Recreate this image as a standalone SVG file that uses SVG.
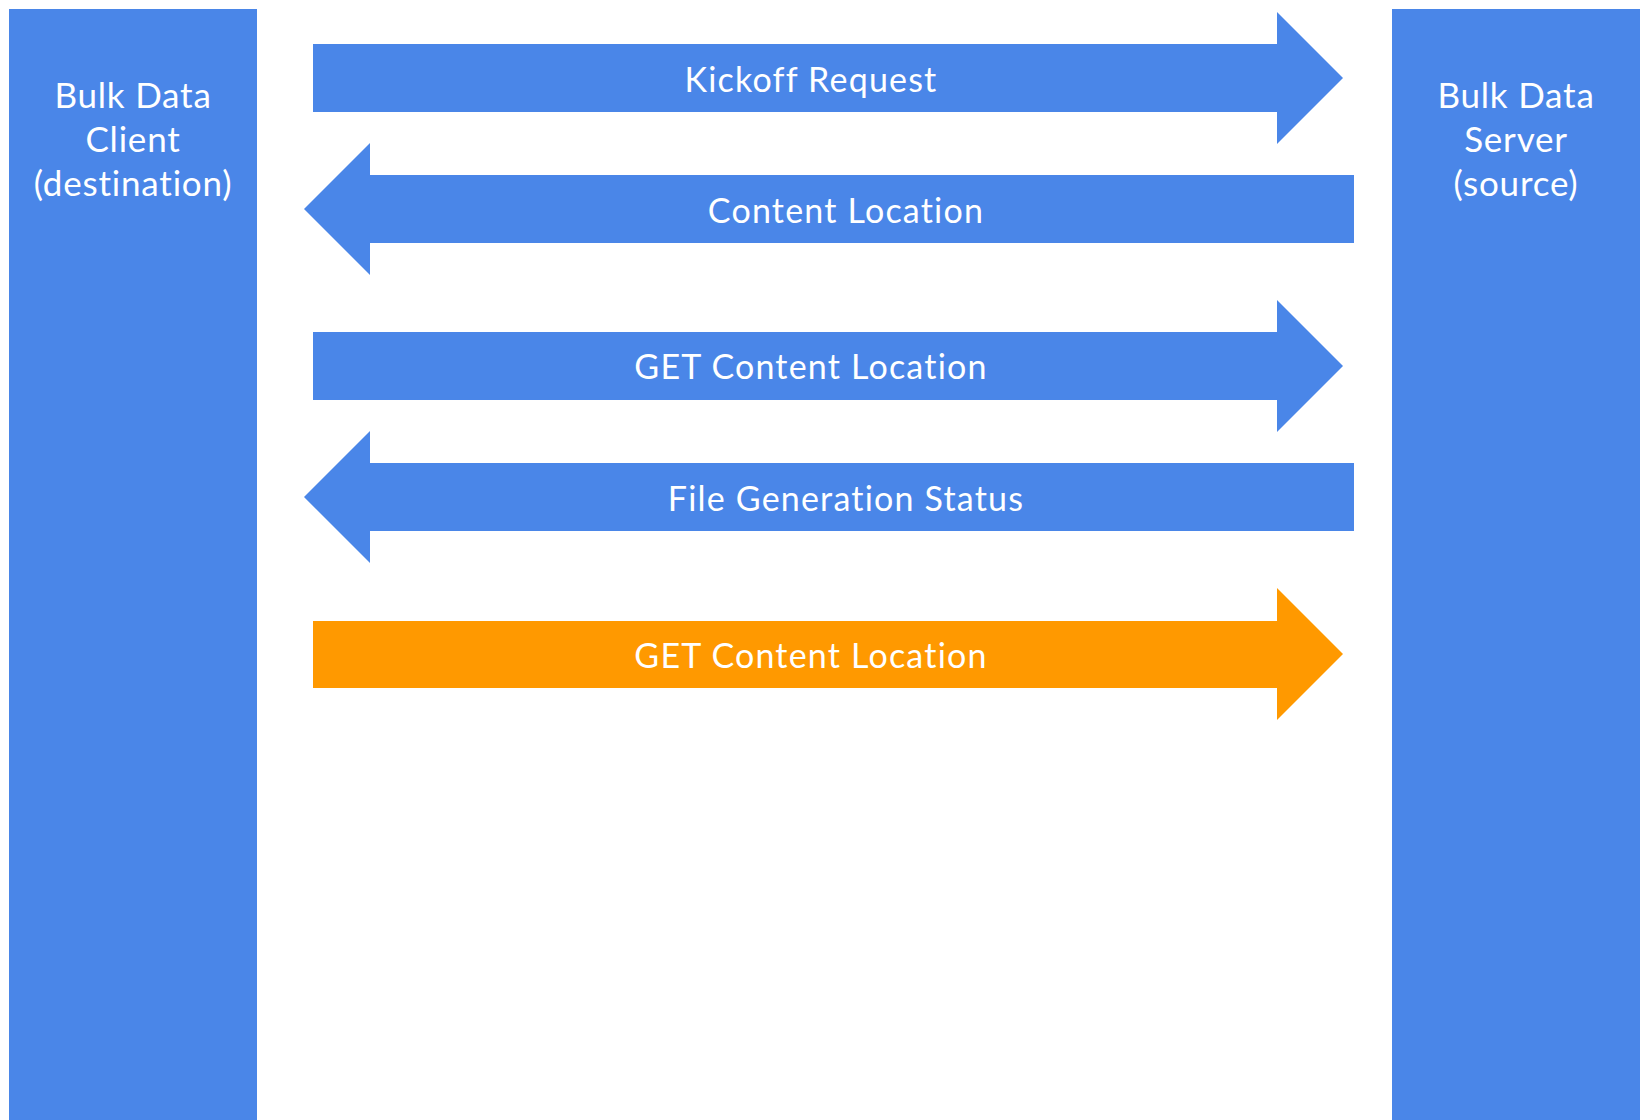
<svg xmlns="http://www.w3.org/2000/svg" width="1646" height="1120" viewBox="0 0 1646 1120">
<style>
.col{fill:#4a86e8}
.arr{fill:#4a86e8}
.orange{fill:#ff9900}
text{font-family:Lato,"Open Sans","Liberation Sans",sans-serif;fill:#ffffff;text-anchor:middle}
.big{font-size:35px;letter-spacing:0.8px}
.lbl{font-size:34px;letter-spacing:1.2px}
</style>
<rect width="1646" height="1120" fill="#ffffff"/>
<g id="client">
<rect class="col" x="9" y="9" width="248" height="1111"/>
<text class="big" x="133" y="108">Bulk Data</text>
<text class="big" x="133" y="152">Client</text>
<text class="big" x="133" y="196">(destination)</text>
</g>
<g id="server">
<rect class="col" x="1392" y="9" width="248" height="1111"/>
<text class="big" x="1516" y="108">Bulk Data</text>
<text class="big" x="1516" y="152">Server</text>
<text class="big" x="1516" y="196">(source)</text>
</g>
<g id="connectors">
<g id="kickoff">
<polygon class="arr" points="313,44 1277,44 1277,12 1343,78 1277,144 1277,112 313,112"/>
<text class="lbl" x="811" y="92">Kickoff Request</text>
</g>
<g id="content-location">
<polygon class="arr" points="1354,175 370,175 370,143 304,209 370,275 370,243 1354,243"/>
<text class="lbl" x="846" y="223">Content Location</text>
</g>
<g id="get-1">
<polygon class="arr" points="313,332 1277,332 1277,300 1343,366 1277,432 1277,400 313,400"/>
<text class="lbl" x="811" y="379">GET Content Location</text>
</g>
<g id="status">
<polygon class="arr" points="1354,463 370,463 370,431 304,497 370,563 370,531 1354,531"/>
<text class="lbl" x="846" y="511">File Generation Status</text>
</g>
<g id="get-2">
<polygon class="orange" points="313,621 1277,621 1277,588 1343,654 1277,720 1277,688 313,688"/>
<text class="lbl" x="811" y="668">GET Content Location</text>
</g>
</g>
</svg>
